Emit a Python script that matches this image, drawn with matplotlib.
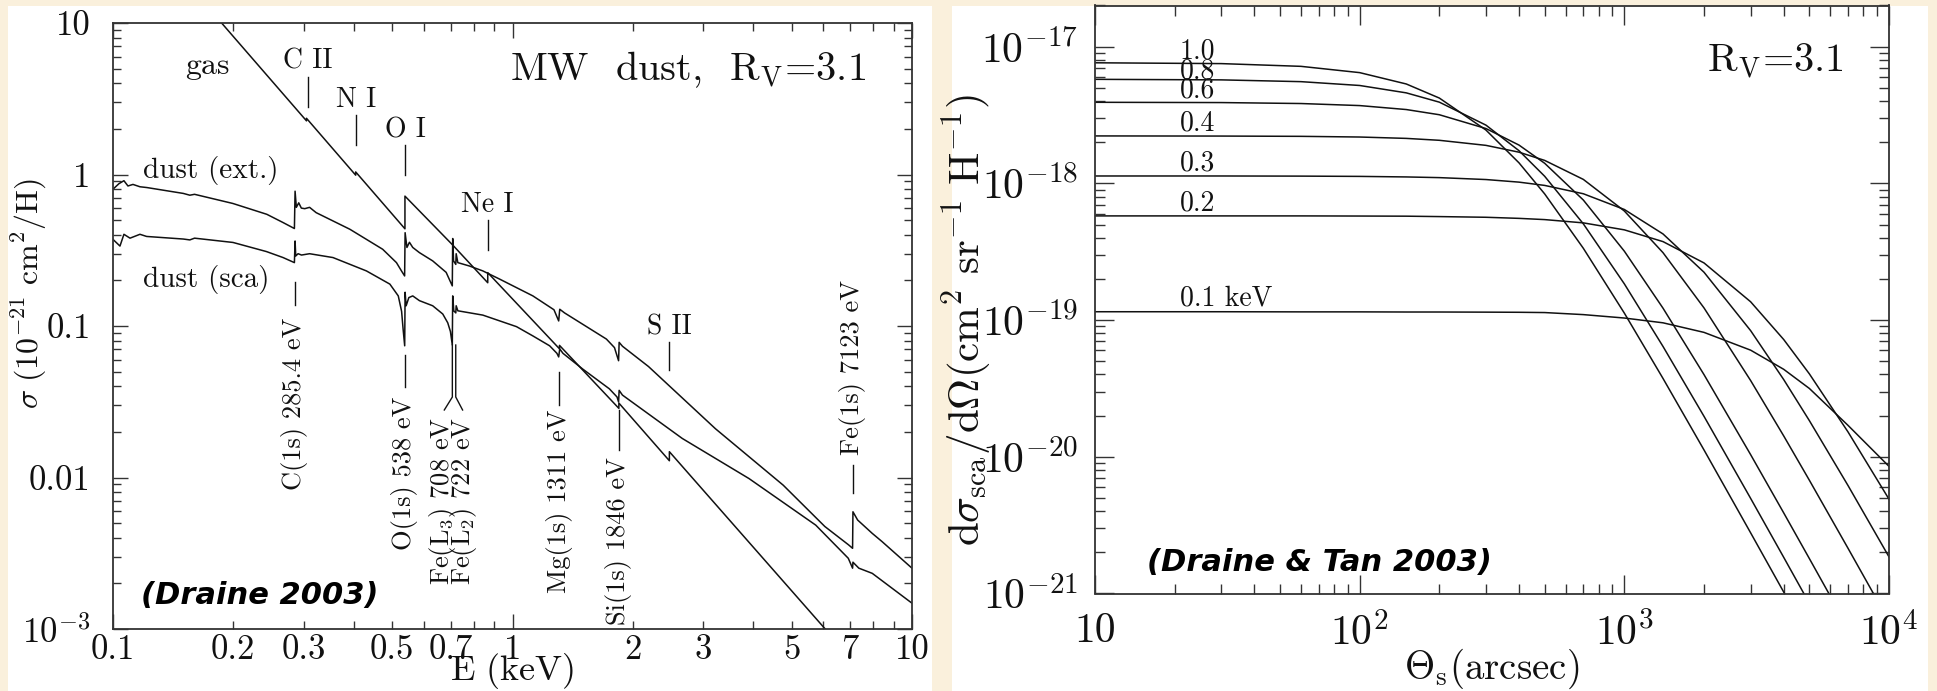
import numpy as np
import matplotlib
matplotlib.use("Agg")
import matplotlib.pyplot as plt
from matplotlib.ticker import FixedLocator, FixedFormatter, NullFormatter
from matplotlib.patches import Rectangle
import matplotlib.transforms as mtransforms

plt.rcParams['mathtext.fontset'] = 'cm'
plt.rcParams['font.family'] = 'serif'
plt.rcParams['font.serif'] = ['cmr10', 'DejaVu Serif']
plt.rcParams['axes.unicode_minus'] = False
plt.rcParams['axes.formatter.use_mathtext'] = True

# ---------------- Left panel data (Draine 2003) ----------------
gas_E = [0.187, 0.305, 0.305, 0.405, 0.405, 0.538, 0.538, 0.708, 0.867, 0.867,
         1.311, 1.311, 1.846, 1.846, 2.47, 2.47, 7.0]
gas_sigma = [10.0, 2.26, 2.35, 0.99, 1.04, 0.438, 0.72, 0.343, 0.193, 0.225,
             0.0707, 0.0745, 0.0286, 0.031, 0.0129, 0.0148, 0.00065]

ext_E = [0.100, 0.1035, 0.1065, 0.109, 0.1122, 0.1168, 0.1216, 0.150, 0.1557, 0.160,
         0.1995, 0.2427, 0.266, 0.2845, 0.2856, 0.2877, 0.2917, 0.2961, 0.302, 0.3105,
         0.3225, 0.3917, 0.4732, 0.5123, 0.5273, 0.537, 0.5385, 0.5442, 0.5521, 0.5627,
         0.5848, 0.6313, 0.6822, 0.7068, 0.7085, 0.712, 0.7212, 0.7228, 0.7297, 0.7798,
         0.8428, 0.9283, 1.1246, 1.27, 1.305, 1.313, 1.35, 1.718, 1.80, 1.843,
         1.849, 1.885, 2.19, 3.22, 4.76, 6.05, 6.94, 7.10, 7.115, 7.31,
         7.95, 8.41, 10.0]
ext_sigma = [0.80, 0.87, 0.91, 0.84, 0.86, 0.83, 0.82, 0.75, 0.73, 0.74,
             0.644, 0.546, 0.483, 0.44, 0.776, 0.607, 0.65, 0.60, 0.595, 0.607,
             0.56, 0.435, 0.321, 0.262, 0.231, 0.214, 0.413, 0.33, 0.357, 0.33,
             0.305, 0.269, 0.226, 0.184, 0.378, 0.269, 0.255, 0.30, 0.262, 0.249,
             0.231, 0.204, 0.158, 0.128, 0.108, 0.129, 0.122, 0.082, 0.072, 0.059,
             0.078, 0.0735, 0.054, 0.021, 0.0089, 0.00475, 0.00359, 0.00341, 0.00594, 0.00524,
             0.00428, 0.00378, 0.00252]

sca_E = [0.100, 0.1041, 0.1065, 0.1103, 0.1168, 0.1214, 0.150, 0.1557, 0.160, 0.1997,
         0.2421, 0.2665, 0.2845, 0.2856, 0.2867, 0.2906, 0.2964, 0.3105, 0.3553, 0.4308,
         0.4932, 0.5177, 0.5277, 0.5324, 0.5372, 0.5385, 0.5417, 0.5502, 0.5627, 0.5848,
         0.6313, 0.669, 0.6885, 0.6992, 0.7068, 0.7085, 0.7129, 0.7212, 0.7228, 0.7298,
         0.8428, 1.0235, 1.1246, 1.2388, 1.2918, 1.305, 1.313, 1.3377, 1.4986, 1.7474,
         1.8268, 1.843, 1.849, 1.8844, 2.6607, 3.9084, 5.7412, 6.9262, 7.10, 7.115,
         7.3621, 7.9527, 10.0]
sca_sigma = [0.373, 0.337, 0.403, 0.38, 0.403, 0.39, 0.375, 0.37, 0.38, 0.356,
             0.31, 0.283, 0.262, 0.364, 0.29, 0.30, 0.294, 0.30, 0.283, 0.231,
             0.189, 0.158, 0.125, 0.095, 0.074, 0.167, 0.136, 0.154, 0.158, 0.147,
             0.136, 0.12, 0.105, 0.092, 0.075, 0.158, 0.126, 0.122, 0.136, 0.126,
             0.118, 0.099, 0.086, 0.074, 0.066, 0.0625, 0.0706, 0.066, 0.052, 0.0385,
             0.034, 0.0315, 0.0376, 0.035, 0.0181, 0.00984, 0.00485, 0.00293, 0.00252, 0.00276,
             0.00252, 0.00233, 0.00148]

# ---------------- Right panel data (Draine & Tan 2003) ----------------
theta = [10, 30, 60, 100, 150, 200, 300, 400, 500, 700, 1000, 1400, 2000, 3000,
         4000, 5000, 7000, 10000]
energy_labels = ['1.0', '0.8', '0.6', '0.4', '0.3', '0.2', '0.1 keV']
log_dsdo_1p0 = [-17.118, -17.124, -17.144, -17.19, -17.273, -17.376, -17.61, -17.85, -18.077,
                -18.475, -18.949, -19.427, -19.95, -20.556, -20.989, -21.327, -21.84, -22.38]
log_dsdo_0p8 = [-17.239, -17.243, -17.256, -17.284, -17.338, -17.406, -17.574, -17.761, -17.948,
                -18.296, -18.735, -19.193, -19.704, -20.304, -20.735, -21.072, -21.58, -22.12]
log_dsdo_0p6 = [-17.407, -17.409, -17.416, -17.431, -17.46, -17.498, -17.599, -17.72, -17.853,
                -18.122, -18.496, -18.913, -19.399, -19.984, -20.41, -20.744, -21.251, -21.79]
log_dsdo_0p4 = [-17.653, -17.654, -17.656, -17.661, -17.671, -17.685, -17.722, -17.772, -17.832,
                -17.971, -18.202, -18.507, -18.911, -19.442, -19.847, -20.171, -20.669, -21.203]
log_dsdo_0p3 = [-17.946, -17.946, -17.947, -17.949, -17.953, -17.958, -17.972, -17.991, -18.015,
                -18.076, -18.191, -18.37, -18.65, -19.077, -19.435, -19.735, -20.21, -20.732]
log_dsdo_0p2 = [-18.238, -18.238, -18.238, -18.239, -18.24, -18.243, -18.248, -18.256, -18.265,
                -18.289, -18.34, -18.426, -18.582, -18.866, -19.142, -19.393, -19.818, -20.31]
log_dsdo_0p1 = [-18.939, -18.939, -18.94, -18.94, -18.941, -18.941, -18.942, -18.943, -18.945,
                -18.96, -18.985, -19.02, -19.09, -19.22, -19.36, -19.5, -19.77, -20.07]
label_yfrac = [0.922, 0.888, 0.855, 0.799, 0.731, 0.663, 0.502]

W, H = 1937, 691
fig = plt.figure(figsize=(W / 100, H / 100), dpi=100)
fig.patch.set_facecolor('#FAF0DC')
fig.patches.append(Rectangle((8 / W, 0), (932 - 8) / W, 1 - 6 / H, transform=fig.transFigure,
                             facecolor='white', edgecolor='none', zorder=-5))
fig.patches.append(Rectangle((952 / W, 0), (1928 - 952) / W, 1 - 6 / H, transform=fig.transFigure,
                             facecolor='white', edgecolor='none', zorder=-5))

def px_axes(x0, x1, ytop, ybot):
    return fig.add_axes([x0 / W, 1 - ybot / H, (x1 - x0) / W, (ybot - ytop) / H])

LC = '#111111'
SC = '#333333'

# ================= LEFT =================
ax = px_axes(113, 912, 23, 629)
ax.set_facecolor('none')
ax.set_xscale('log'); ax.set_yscale('log')
ax.set_xlim(0.1, 10); ax.set_ylim(1e-3, 10)
ax.plot(gas_E, gas_sigma, color=LC, lw=1.1)
ax.plot(ext_E, ext_sigma, color=LC, lw=1.1)
ax.plot(sca_E, sca_sigma, color=LC, lw=1.1)

ax.xaxis.set_major_locator(FixedLocator([0.1, 1, 10]))
ax.xaxis.set_major_formatter(FixedFormatter(['0.1', '1', '10']))
xmin = [0.2, 0.3, 0.4, 0.5, 0.6, 0.7, 0.8, 0.9, 2, 3, 4, 5, 6, 7, 8, 9]
xminl = ['0.2', '0.3', '', '0.5', '', '0.7', '', '', '2', '3', '', '5', '', '7', '', '']
ax.xaxis.set_minor_locator(FixedLocator(xmin))
ax.xaxis.set_minor_formatter(FixedFormatter(xminl))
ax.yaxis.set_major_locator(FixedLocator([1e-3, 1e-2, 0.1, 1, 10]))
ax.yaxis.set_major_formatter(FixedFormatter([r'$10^{-3}$', '0.01', '0.1', '1', '10']))
ymin = [m * d for d in [1e-3, 1e-2, 0.1, 1] for m in range(2, 10)]
ax.yaxis.set_minor_locator(FixedLocator(ymin))
ax.yaxis.set_minor_formatter(NullFormatter())
ax.tick_params(which='both', direction='in', top=True, right=True, colors=SC,
               labelcolor='#111111', labelsize=25, width=1.0)
ax.tick_params(which='major', length=11)
ax.tick_params(which='minor', length=6)
ax.tick_params(axis='x', which='both', pad=4)
ax.tick_params(axis='y', which='both', pad=16)
for s in ax.spines.values():
    s.set_color(SC); s.set_linewidth(1.3)

bt = mtransforms.blended_transform_factory(ax.transData, ax.transAxes)
tk = dict(color=LC, lw=1.0)
# top absorption-edge markers
top_marks = [('C II', 0.307, 0.937, 0.911, 0.861),
             ('N I', 0.405, 0.873, 0.848, 0.799),
             ('O I', 0.538, 0.823, 0.799, 0.749),
             ('Ne I', 0.866, 0.700, 0.675, 0.625),
             ('S II', 2.47, 0.498, 0.474, 0.427)]
for lab, xe, yt, y0, y1 in top_marks:
    ax.text(xe, yt, lab, transform=bt, ha='center', va='center', fontsize=20, color=LC)
    ax.plot([xe, xe], [y0, y1], transform=bt, **tk)

# vertical edge labels
vt = dict(transform=bt, rotation=90, ha='center', va='top', fontsize=19, color=LC)
ax.plot([0.2854, 0.2854], [0.5726, 0.5347], transform=bt, **tk)
ax.text(0.2854, 0.513, 'C(1s) 285.4 eV', **vt)
ax.plot([0.538, 0.538], [0.452, 0.399], transform=bt, **tk)
ax.text(0.538, 0.383, 'O(1s) 538 eV', **vt)
ax.plot([0.707, 0.707, 0.675], [0.4686, 0.3828, 0.3614], transform=bt, **tk)
ax.plot([0.721, 0.721, 0.750], [0.4686, 0.3828, 0.3614], transform=bt, **tk)
ax.text(0.668, 0.3498, r'Fe(L$_3$) 708 eV', **vt)
ax.text(0.754, 0.3498, r'Fe(L$_2$) 722 eV', **vt)
ax.plot([1.311, 1.311], [0.424, 0.370], transform=bt, **tk)
ax.text(1.311, 0.3614, 'Mg(1s) 1311 eV', **vt)
ax.plot([1.846, 1.846], [0.3614, 0.2954], transform=bt, **tk)
ax.text(1.846, 0.2838, 'Si(1s) 1846 eV', **vt)
ax.plot([7.112, 7.112], [0.2706, 0.2244], transform=bt, **tk)
ax.text(7.112, 0.576, 'Fe(1s) 7123 eV', **vt)

ax.text(0.1727, 0.929, 'gas', transform=bt, ha='center', va='center', fontsize=23, color=LC)
ax.text(0.1189, 0.757, 'dust (ext.)', transform=bt, ha='left', va='center', fontsize=21, color=LC)
ax.text(0.1189, 0.576, 'dust (sca)', transform=bt, ha='left', va='center', fontsize=21, color=LC)
ax.text(7.66, 0.906, r'MW  dust,  R$_{\rm V}$=3.1', transform=bt, ha='right', va='baseline', fontsize=29, color=LC)
ax.text(0.2329, 0.056, '(Draine 2003)', transform=bt, ha='center', va='center', fontsize=22,
        family='DejaVu Sans', weight='bold', style='italic', color='black')

fig.text(29 / W, 1 - 293 / H, r'$\sigma\ (10^{-21}\ \mathrm{cm}^2/\mathrm{H})$', rotation=90,
         ha='center', va='center', fontsize=23, color=LC)
fig.text(512 / W, 1 - 671 / H, r'$\mathrm{E\ (keV)}$', ha='center', va='center', fontsize=26, color=LC)

# ================= RIGHT =================
bx = px_axes(1095, 1889, 5.5, 593.5)
bx.set_facecolor('none')
bx.set_xscale('log'); bx.set_yscale('log')
bx.set_xlim(10, 1e4); bx.set_ylim(1e-21, 2e-17)
curves = [log_dsdo_1p0, log_dsdo_0p8, log_dsdo_0p6, log_dsdo_0p4, log_dsdo_0p3, log_dsdo_0p2, log_dsdo_0p1]
for lv in curves:
    bx.plot(theta, 10.0 ** np.array(lv), color=LC, lw=1.1)
bt2 = mtransforms.blended_transform_factory(bx.transData, bx.transAxes)
for lab, yf in zip(energy_labels, label_yfrac):
    bx.text(20.9, yf, lab, transform=bt2, ha='left', va='center', fontsize=20, color=LC)

bx.xaxis.set_major_locator(FixedLocator([10, 100, 1000, 10000]))
bx.xaxis.set_major_formatter(FixedFormatter(['10', r'$10^2$', r'$10^3$', r'$10^4$']))
bx.xaxis.set_minor_locator(FixedLocator([m * d for d in [10, 100, 1000] for m in range(2, 10)]))
bx.xaxis.set_minor_formatter(NullFormatter())
bx.yaxis.set_major_locator(FixedLocator([1e-21, 1e-20, 1e-19, 1e-18, 1e-17]))
bx.yaxis.set_major_formatter(FixedFormatter([r'$10^{-21}$', r'$10^{-20}$', r'$10^{-19}$', r'$10^{-18}$', r'$10^{-17}$']))
bx.yaxis.set_minor_locator(FixedLocator([m * d for d in [1e-21, 1e-20, 1e-19, 1e-18, 1e-17] for m in range(2, 10) if m * d <= 2e-17]))
bx.yaxis.set_minor_formatter(NullFormatter())
bx.tick_params(which='both', direction='in', top=True, right=True, colors=SC,
               labelcolor='#111111', labelsize=30, width=1.0)
bx.tick_params(which='major', length=14)
bx.tick_params(which='minor', length=7)
bx.tick_params(axis='x', which='both', pad=14)
bx.tick_params(axis='y', which='both', pad=12)
for s in bx.spines.values():
    s.set_color(SC); s.set_linewidth(1.3)

bx.text(0.943, 0.888, r'R$_{\rm V}$=3.1', transform=bx.transAxes, ha='right', va='baseline', fontsize=29, color=LC)
bx.text(0.283, 0.053, '(Draine & Tan 2003)', transform=bx.transAxes, ha='center', va='center', fontsize=22,
        family='DejaVu Sans', weight='bold', style='italic', color='black')

fig.text(967 / W, 1 - 320 / H,
         r'$\mathrm{d}\sigma_{\rm sca}/\mathrm{d}\Omega(\mathrm{cm}^2\ \mathrm{sr}^{-1}\ \mathrm{H}^{-1})$',
         rotation=90, ha='center', va='center', fontsize=31, color=LC)
fig.text(1492 / W, 1 - 669 / H, r'$\Theta_{\rm s}(\mathrm{arcsec})$', ha='center', va='center', fontsize=28, color=LC)

fig.savefig('out.png', dpi=100, facecolor=fig.get_facecolor())
